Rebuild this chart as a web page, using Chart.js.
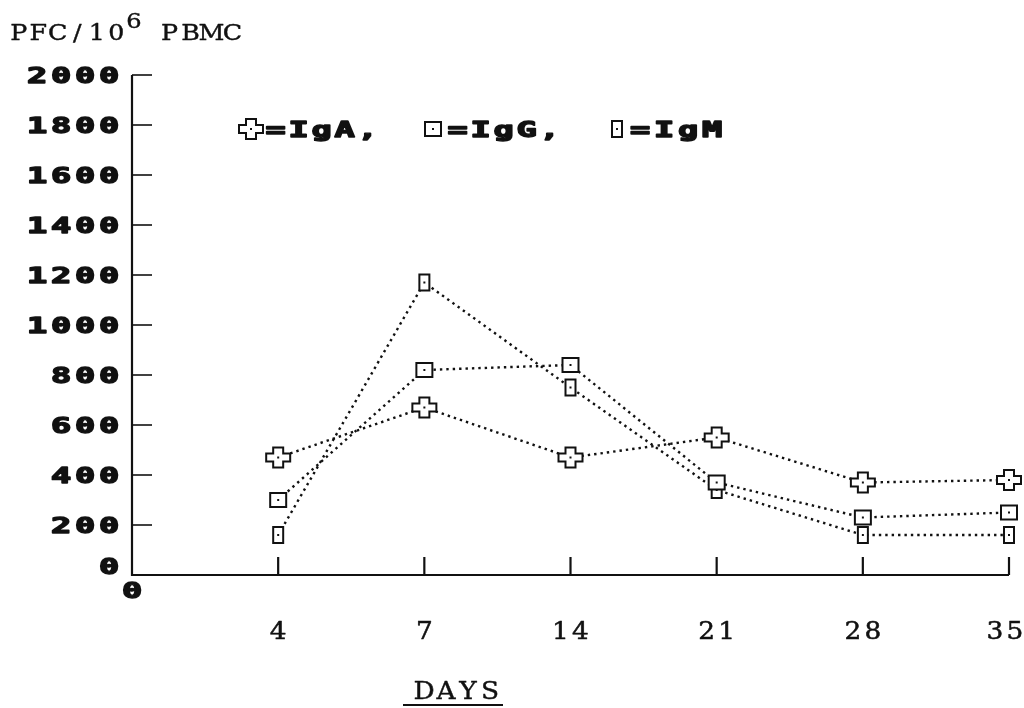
<!DOCTYPE html>
<html>
<head>
<meta charset="utf-8">
<script src="https://cdn.jsdelivr.net/npm/chart.js@4.4.0/dist/chart.umd.min.js"></script>
<style>
  html, body { margin: 0; padding: 0; background: #fff; }
  canvas { display: block; }
</style>
</head>
<body>
<canvas id="pfcChart" width="1024" height="708"></canvas>
<script>
// Plaque forming cells per 10^6 PBMC, by day after immunisation
const days = ['4', '7', '14', '21', '28', '35'];
const igA = [470, 670, 470, 550, 370, 380];
const igG = [300, 820, 840, 370, 230, 250];
const igM = [160, 1170, 750, 340, 160, 160];
const yTicks = [0, 200, 400, 600, 800, 1000, 1200, 1400, 1600, 1800, 2000];

const INK = '#111';
const DOT_FONT = 'bold 21px "DejaVu Sans Mono"';
const TYPE_FAMILY = '"DejaVu Serif"';

// plotter-style markers, drawn once on small canvases
function makeMarker(kind) {
    const c = document.createElement('canvas');
    c.width = 30; c.height = 26;
    const g = c.getContext('2d');
    g.translate(15, 13);
    g.fillStyle = '#fff';
    g.strokeStyle = INK;
    g.lineWidth = 2;
    g.beginPath();
    if (kind === 'cross') {
        const pts = [[-5,-10],[5,-10],[5,-4],[12,-4],[12,4],[5,4],[5,10],[-5,10],[-5,4],[-12,4],[-12,-4],[-5,-4]];
        pts.forEach((p, i) => i ? g.lineTo(p[0], p[1]) : g.moveTo(p[0], p[1]));
        g.closePath();
    } else if (kind === 'square') {
        g.rect(-8, -7, 16, 14);
    } else {
        g.rect(-5, -8, 10, 16);
    }
    g.fill();
    g.stroke();
    g.fillStyle = INK;
    g.fillRect(-1, -1, 2, 2);
    return c;
}

const markers = {
    cross: makeMarker('cross'),
    square: makeMarker('square'),
    tall: makeMarker('tall')
};

// draw text one character per fixed cell, stretched sideways;
// weight thickens the glyphs with an extra outline pass
function cellText(ctx, str, x, y, pitch, sx, font, weight) {
    ctx.save();
    ctx.font = font;
    ctx.fillStyle = INK;
    ctx.strokeStyle = INK;
    ctx.lineJoin = 'round';
    ctx.textAlign = 'center';
    ctx.textBaseline = 'alphabetic';
    for (let i = 0; i < str.length; i++) {
        ctx.save();
        ctx.translate(x + i * pitch + pitch / 2, y);
        ctx.scale(sx, 1);
        ctx.fillText(str[i], 0, 0);
        if (weight) {
            ctx.lineWidth = weight;
            ctx.strokeText(str[i], 0, 0);
        }
        ctx.restore();
    }
    ctx.restore();
}

function series(values) {
    return values.map((v, i) => ({ x: i + 1, y: v }));
}

function dataset(label, values, marker) {
    return {
        label: label,
        data: series(values),
        borderColor: INK,
        borderWidth: 2.4,
        borderDash: [2.4, 4],
        pointStyle: marker,
        pointRadius: 10,
        pointHoverRadius: 10,
        fill: false,
        tension: 0,
        clip: false
    };
}

const axesPlugin = {
    id: 'plotterAxes',
    beforeDatasetsDraw(chart) {
        const ctx = chart.ctx;
        const xs = chart.scales.x;
        const ys = chart.scales.y;
        const x0 = xs.getPixelForValue(0);
        const x1 = xs.getPixelForValue(days.length);
        const yTop = ys.getPixelForValue(yTicks[yTicks.length - 1]);
        const y0 = ys.getPixelForValue(0);

        ctx.save();
        ctx.strokeStyle = INK;
        ctx.lineWidth = 2.2;
        ctx.beginPath();
        ctx.moveTo(x0, yTop);
        ctx.lineTo(x0, y0);
        ctx.lineTo(x1, y0);
        ctx.stroke();

        // inner tick marks on the value axis
        ctx.lineWidth = 1.6;
        yTicks.forEach(v => {
            if (v === 0) return;
            const y = ys.getPixelForValue(v);
            ctx.beginPath();
            ctx.moveTo(x0, y);
            ctx.lineTo(x0 + 20, y);
            ctx.stroke();
        });

        // upright ticks on the day axis
        ctx.lineWidth = 2.2;
        days.forEach((d, i) => {
            const x = xs.getPixelForValue(i + 1);
            ctx.beginPath();
            ctx.moveTo(x, y0);
            ctx.lineTo(x, y0 - 18);
            ctx.stroke();
        });
        ctx.restore();
    },
    afterDraw(chart) {
        const ctx = chart.ctx;
        const xs = chart.scales.x;
        const ys = chart.scales.y;
        const x0 = xs.getPixelForValue(0);
        const y0 = ys.getPixelForValue(0);

        // value labels, right aligned against the axis
        yTicks.forEach(v => {
            const s = String(v);
            let y = ys.getPixelForValue(v);
            if (v === 0) y -= 9;
            cellText(ctx, s, 121 - s.length * 24, y + 8, 24, 1.6, DOT_FONT, 1.4);
        });
        cellText(ctx, '0', x0 - 12, y0 + 23, 24, 1.6, DOT_FONT, 1.4);

        // day labels
        const dayFont = '24px ' + TYPE_FAMILY;
        days.forEach((d, i) => {
            const x = Math.min(xs.getPixelForValue(i + 1), 1005);
            cellText(ctx, d, x - d.length * 10, 639, 20, 1.1, dayFont, 0.5);
        });

        // axis titles
        cellText(ctx, 'PFC/10', 9, 40, 19.5, 1.15, '22px ' + TYPE_FAMILY, 0.4);
        cellText(ctx, '6', 126, 28, 16, 1.15, '21px ' + TYPE_FAMILY, 0.4);
        cellText(ctx, 'PBMC', 159, 40, 21, 1.15, '22px ' + TYPE_FAMILY, 0.4);
        cellText(ctx, 'DAYS', 413, 699, 22, 1.1, '24px ' + TYPE_FAMILY, 0.4);
        ctx.save();
        ctx.strokeStyle = INK;
        ctx.lineWidth = 2;
        ctx.beginPath();
        ctx.moveTo(403, 705);
        ctx.lineTo(503, 705);
        ctx.stroke();
        ctx.restore();

        // key line inside the plot
        const ky = 129;
        ctx.drawImage(markers.cross, 251 - 15, ky - 13);
        cellText(ctx, '=IgA,', 264, ky + 8, 23, 1.6, DOT_FONT, 1.4);
        ctx.drawImage(markers.square, 433 - 15, ky - 13);
        cellText(ctx, '=IgG,', 446, ky + 8, 23, 1.6, DOT_FONT, 1.4);
        ctx.drawImage(markers.tall, 617 - 15, ky - 13);
        cellText(ctx, '=IgM', 628, ky + 8, 24, 1.6, DOT_FONT, 1.4);
    }
};

function initPfcChart() {
    const ctx = document.getElementById('pfcChart').getContext('2d');
    new Chart(ctx, {
        type: 'line',
        data: {
            datasets: [
                dataset('IgA', igA, markers.cross),
                dataset('IgG', igG, markers.square),
                dataset('IgM', igM, markers.tall)
            ]
        },
        options: {
            responsive: false,
            animation: false,
            layout: {
                padding: { left: 132, right: 15, top: 75, bottom: 133 }
            },
            plugins: {
                legend: { display: false },
                tooltip: { enabled: false }
            },
            scales: {
                x: { type: 'linear', min: 0, max: days.length, display: false },
                y: { type: 'linear', min: 0, max: 2000, display: false }
            }
        },
        plugins: [axesPlugin]
    });
}

// make sure the local faces are ready before the canvas uses them
Promise.all([
    document.fonts.load(DOT_FONT, '0123456789IgAGM=,'),
    document.fonts.load('20px ' + TYPE_FAMILY, 'PFC/106BMDAYS')
]).catch(() => {}).then(initPfcChart);
</script>
</body>
</html>
